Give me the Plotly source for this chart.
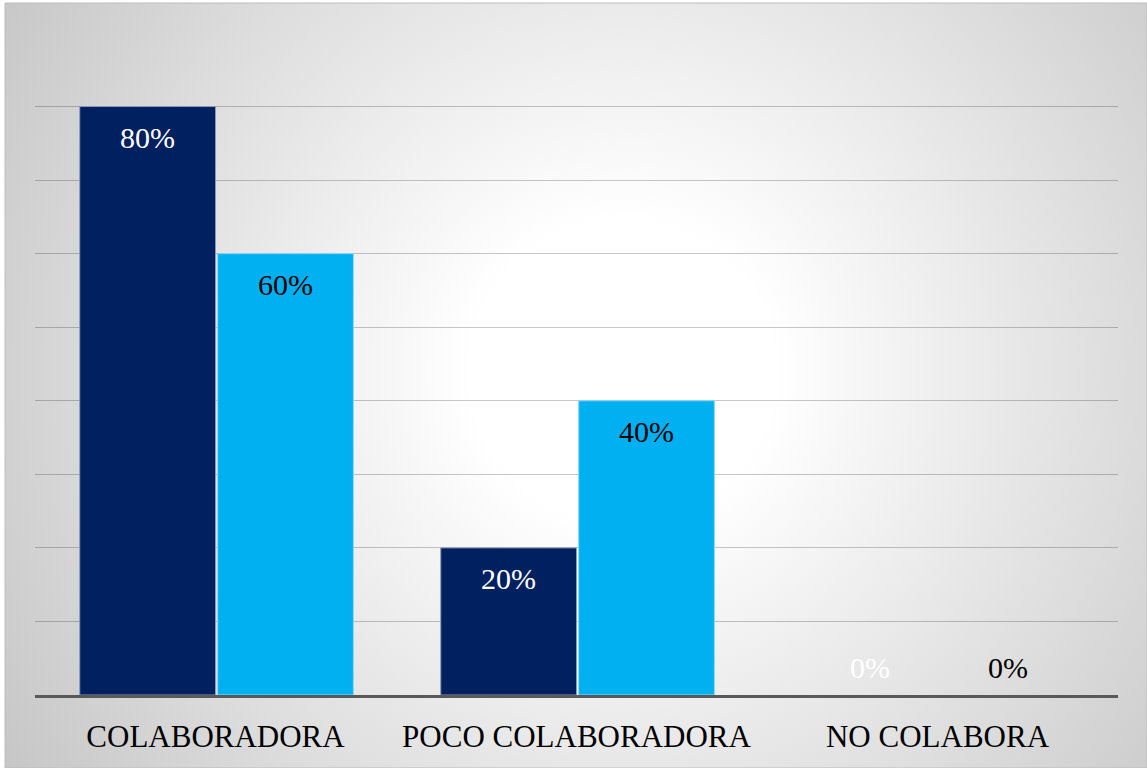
import plotly.graph_objects as go
import urllib.parse

# --- data -------------------------------------------------------------
categories = ["COLABORADORA", "POCO COLABORADORA", "NO COLABORA"]
serie_1 = [0.80, 0.20, 0.00]
serie_2 = [0.60, 0.40, 0.00]

W, H = 1147, 768
ML, MR, MT, MB = 35, 29, 33, 73
PW, PH = W - ML - MR, H - MT - MB

DARK = "#002060"
LIGHT = "#00B0F0"
FONT = "Liberation Serif"

BAR_W = 0.376
GAP = 0.006
xs = list(range(len(categories)))

fig = go.Figure()
fig.add_trace(go.Bar(
    x=xs, y=serie_1, width=BAR_W, offset=-BAR_W,
    marker=dict(color=DARK,
                line=dict(color="#8C9AB4", width=[1 if v > 0 else 0 for v in serie_1])),
    name="Serie 1", hoverinfo="skip",
))
fig.add_trace(go.Bar(
    x=xs, y=serie_2, width=BAR_W, offset=GAP,
    marker=dict(color=LIGHT,
                line=dict(color="#8AD8F7", width=[1 if v > 0 else 0 for v in serie_2])),
    name="Serie 2", hoverinfo="skip",
))

# value labels, inside the top of each bar (above the baseline for zeros)
for vals, dx, colour in ((serie_1, -BAR_W / 2, "white"), (serie_2, BAR_W / 2 + GAP, "black")):
    for i, v in enumerate(vals):
        if v > 0:
            fig.add_annotation(x=i + dx, y=v, text=f"{v:.0%}", showarrow=False,
                               yanchor="top", yshift=-12,
                               font=dict(family=FONT, size=30, color=colour))
        else:
            fig.add_annotation(x=i + dx, y=v, text=f"{v:.0%}", showarrow=False,
                               yanchor="bottom", yshift=9,
                               font=dict(family=FONT, size=30, color=colour))

# radial grey-to-white backdrop
svg = (
    f"<svg xmlns='http://www.w3.org/2000/svg' width='{W}' height='{H}'>"
    "<defs><radialGradient id='g' gradientUnits='userSpaceOnUse' "
    "cx='620' cy='370' r='760'>"
    "<stop offset='0' stop-color='#FFFFFF'/>"
    "<stop offset='0.2' stop-color='#FFFFFF'/>"
    "<stop offset='1' stop-color='#C4C4C4'/>"
    "</radialGradient></defs>"
    f"<rect x='0' y='0' width='{W}' height='{H}' fill='url(#g)'/></svg>"
)
src = "data:image/svg+xml;charset=utf-8," + urllib.parse.quote(svg)

x0, y0 = 5, 3
fig.add_layout_image(
    source=src, xref="paper", yref="paper",
    x=(x0 - ML) / PW, y=1 + (MT - y0) / PH,
    sizex=(W - x0) / PW, sizey=(H - y0) / PH,
    xanchor="left", yanchor="top", sizing="stretch", layer="below",
)
fig.add_shape(
    type="rect", xref="paper", yref="paper",
    x0=(x0 - ML) / PW, x1=1 + MR / PW, y0=-MB / PH, y1=1 + (MT - y0) / PH,
    line=dict(color="#BDBDBD", width=1), fillcolor="rgba(0,0,0,0)", layer="above",
)

fig.update_layout(
    width=W, height=H,
    margin=dict(l=ML, r=MR, t=MT, b=MB, autoexpand=False),
    paper_bgcolor="white", plot_bgcolor="rgba(0,0,0,0)",
    showlegend=False,
    font=dict(family=FONT, color="black"),
)
fig.update_xaxes(
    range=[-0.5, 2.5], tickvals=xs, ticktext=categories,
    tickfont=dict(family=FONT, size=31, color="black"),
    showgrid=False, zeroline=False, ticks="",
    showline=True, linecolor="#595959", linewidth=3,
    ticklabelstandoff=12, automargin=False,
)
fig.update_yaxes(
    range=[0, 0.9], dtick=0.1, showticklabels=False,
    showgrid=True, gridcolor="rgba(0,0,0,0.22)", gridwidth=1,
    zeroline=False, automargin=False,
)

fig.write_html("out.html")
